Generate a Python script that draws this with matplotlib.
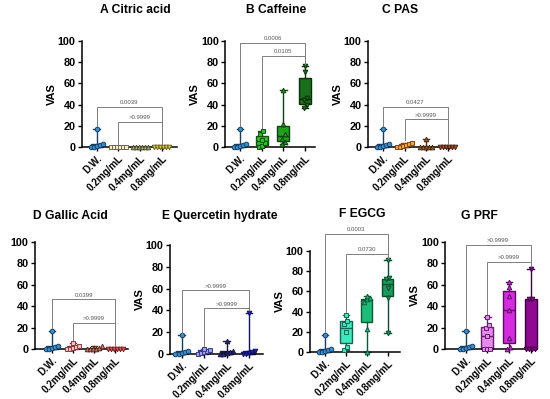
import numpy as np
import matplotlib.pyplot as plt

plt.rcParams['font.family'] = ['Liberation Sans', 'DejaVu Sans']
plt.rcParams['font.weight'] = 'bold'

groups = ["D.W.", "0.2mg/mL", "0.4mg/mL", "0.8mg/mL"]

# VAS scores (one list per group)
dw = [0, 0, 1, 2, 3, 17]

citric_02 = [0, 0, 0, 0, 0, 0]
citric_04 = [0, 0, 0, 0, 0, 0]
citric_08 = [0, 0, 0, 0, 0, 0]

caffeine_02 = [0, 1, 4, 7, 12, 15]
caffeine_04 = [3, 5, 8, 12, 22, 54]
caffeine_08 = [37, 40, 44, 46, 71, 76]

pas_02 = [0, 0, 1, 2, 3, 4]
pas_04 = [0, 0, 0, 0, 0, 8]
pas_08 = [0, 0, 0, 0, 0, 0]

gallic_02 = [0, 0, 1, 2, 3, 6]
gallic_04 = [0, 0, 0, 0, 1, 3]
gallic_08 = [0, 0, 0, 0, 0, 0]

quercetin_02 = [0, 1, 2, 3, 4, 5]
quercetin_04 = [0, 0, 1, 2, 3, 12]
quercetin_08 = [0, 0, 1, 2, 3, 38]

egcg_02 = [2, 5, 20, 28, 31, 37]
egcg_04 = [0, 23, 50, 52, 53, 55]
egcg_08 = [19, 53, 63, 72, 73, 91]

prf_02 = [0, 0, 0, 12, 20, 22, 30]
prf_04 = [0, 2, 10, 36, 50, 58, 63]
prf_08 = [0, 0, 0, 0, 47, 47, 75]

# p values (D.W. vs 0.8, 0.2 vs 0.8) and bracket heights
citric_p = ["0.0039", ">0.9999"]
caffeine_p = ["0.0006", "0.0105"]
pas_p = ["0.0427", ">0.9999"]
gallic_p = ["0.0399", ">0.9999"]
quercetin_p = [">0.9999", ">0.9999"]
egcg_p = ["0.0003", "0.0730"]
prf_p = [">0.9999", ">0.9999"]

citric_h = [38, 24]
caffeine_h = [98, 86]
pas_h = [38, 26]
gallic_h = [46.5, 24.5]
quercetin_h = [58.5, 42]
egcg_h = [117, 97.5]
prf_h = [97.5, 81.5]

DW_COL = ("#3A8FCB", "#173F66")

panels = [
    # title, data, colours (face, edge), p, heights, rect px (l, top, w, h), xlim, title pos px, show ylabel
    ("A Citric acid", [dw, citric_02, citric_04, citric_08],
     [DW_COL, ("#F4F1C9", "#6B6B3A"), ("#A7A77A", "#505030"), ("#D7D040", "#6B6620")],
     citric_p, citric_h, (82, 41, 95, 106), (-0.68, 3.7), (135, 10), True),
    ("B Caffeine", [dw, caffeine_02, caffeine_04, caffeine_08],
     [DW_COL, ("#29C229", "#145214"), ("#1FA01F", "#0F400F"), ("#1B6E1B", "#0A300A")],
     caffeine_p, caffeine_h, (225, 41, 90, 106), (-0.69, 3.46), (276, 10), True),
    ("C PAS", [dw, pas_02, pas_04, pas_08],
     [DW_COL, ("#F5A142", "#7A4A10"), ("#9B5C2B", "#4A2A10"), ("#A0522D", "#4A2010")],
     pas_p, pas_h, (368, 41, 86, 106), (-0.7, 3.3), (400, 10), True),
    ("D Gallic Acid", [dw, gallic_02, gallic_04, gallic_08],
     [DW_COL, ("#F4C2C2", "#8B3A3A"), ("#C08070", "#5A2A20"), ("#D06060", "#7A2020")],
     gallic_p, gallic_h, (35, 242, 93, 107), (-0.79, 3.6), (70, 216), False),
    ("E Quercetin hydrate", [dw, quercetin_02, quercetin_04, quercetin_08],
     [DW_COL, ("#A0A0E6", "#3A3A8A"), ("#2A2A7A", "#151540"), ("#2020B0", "#101060")],
     quercetin_p, quercetin_h, (170, 245, 93, 109), (-0.52, 3.62), (220, 216), True),
    ("F EGCG", [dw, egcg_02, egcg_04, egcg_08],
     [DW_COL, ("#3FE8BF", "#136650"), ("#1DBB78", "#0D5A38"), ("#1A9A5E", "#0B4A2C")],
     egcg_p, egcg_h, (310, 251, 90, 101), (-0.72, 3.6), (362, 214), True),
    ("G PRF", [dw, prf_02, prf_04, prf_08],
     [DW_COL, ("#E58BEB", "#6A1E70"), ("#D62CE0", "#5A0A60"), ("#8E0A90", "#3E0040")],
     prf_p, prf_h, (445, 242, 90, 107), (-0.95, 3.2), (479, 216), True),
]

markers = ["o", "s", "^", "v"]
W, H = 550, 399


def spread(vals, center):
    """Spread points with close values side by side (like Prism scatter)."""
    vals = np.asarray(vals, float)
    order = np.argsort(vals, kind="stable")
    xs = np.zeros(len(vals))
    clusters = []
    cur = [order[0]]
    for i in order[1:]:
        if vals[i] - vals[cur[0]] <= 4:
            cur.append(i)
        else:
            clusters.append(cur)
            cur = [i]
    clusters.append(cur)
    for c in clusters:
        k = len(c)
        xs[c] = center + (np.arange(k) - (k - 1) / 2) * 0.14
    return xs


fig = plt.figure(figsize=(5.5, 3.99), dpi=100)

for title, data, cols, pvals, heights, rect, xlim, tpos, show_ylab in panels:
    l, t, w, h = rect
    ax = fig.add_axes([l / W, 1 - (t + h) / H, w / W, h / H])
    pos = np.arange(4)

    bp = ax.boxplot(data, positions=pos, widths=0.55, whis=(0, 100),
                    patch_artist=True, showfliers=False, capwidths=0.3)
    for i, (face, edge) in enumerate(cols):
        bp["boxes"][i].set(facecolor=face, edgecolor=edge, linewidth=1.0, clip_on=False)
        bp["medians"][i].set(color=edge, linewidth=1.0, clip_on=False)
        for art in bp["whiskers"][2 * i:2 * i + 2] + bp["caps"][2 * i:2 * i + 2]:
            art.set(color=edge, linewidth=1.0, clip_on=False)
        ax.plot(spread(data[i], i), data[i], linestyle="none", marker=markers[i],
                markersize=3.3, markerfacecolor=face, markeredgecolor=edge,
                markeredgewidth=0.7, clip_on=False, zorder=4)

    # significance brackets
    tops = [max(d) for d in data]
    for (a, b), y, txt in zip([(0, 3), (1, 3)], heights, pvals):
        ax.plot([a, a, b, b], [tops[a] + 2.5, y, y, tops[b] + 2.5],
                color="#7F7F7F", linewidth=0.7, clip_on=False, zorder=5)
        ax.annotate(txt, ((a + b) / 2, y), xytext=(0, 1.2), textcoords="offset points",
                    ha="center", va="bottom", fontsize=4.3, color="#555555",
                    fontweight="normal", annotation_clip=False)

    ax.set_xlim(*xlim)
    ax.set_ylim(0, 100)
    ax.set_yticks(np.arange(0, 101, 20))
    ax.set_xticks(pos)
    ax.set_xticklabels(groups, rotation=45, ha="right", rotation_mode="anchor",
                       fontsize=7.1, fontweight="bold")
    for lab in ax.get_yticklabels():
        lab.set_fontsize(7.8)
        lab.set_fontweight("bold")
    ax.tick_params(direction="out", length=3, width=1, pad=1.5)
    ax.spines[["top", "right"]].set_visible(False)
    ax.spines[["left", "bottom"]].set_linewidth(1.1)
    if show_ylab:
        # the D panel's label falls outside the picture in the reference
        ax.set_ylabel("VAS", fontsize=8, fontweight="bold", labelpad=0.5)
    fig.text(tpos[0] / W, 1 - tpos[1] / H, title, ha="center", va="center",
             fontsize=8.7, fontweight="bold")

fig.savefig("out.png", dpi=100)
